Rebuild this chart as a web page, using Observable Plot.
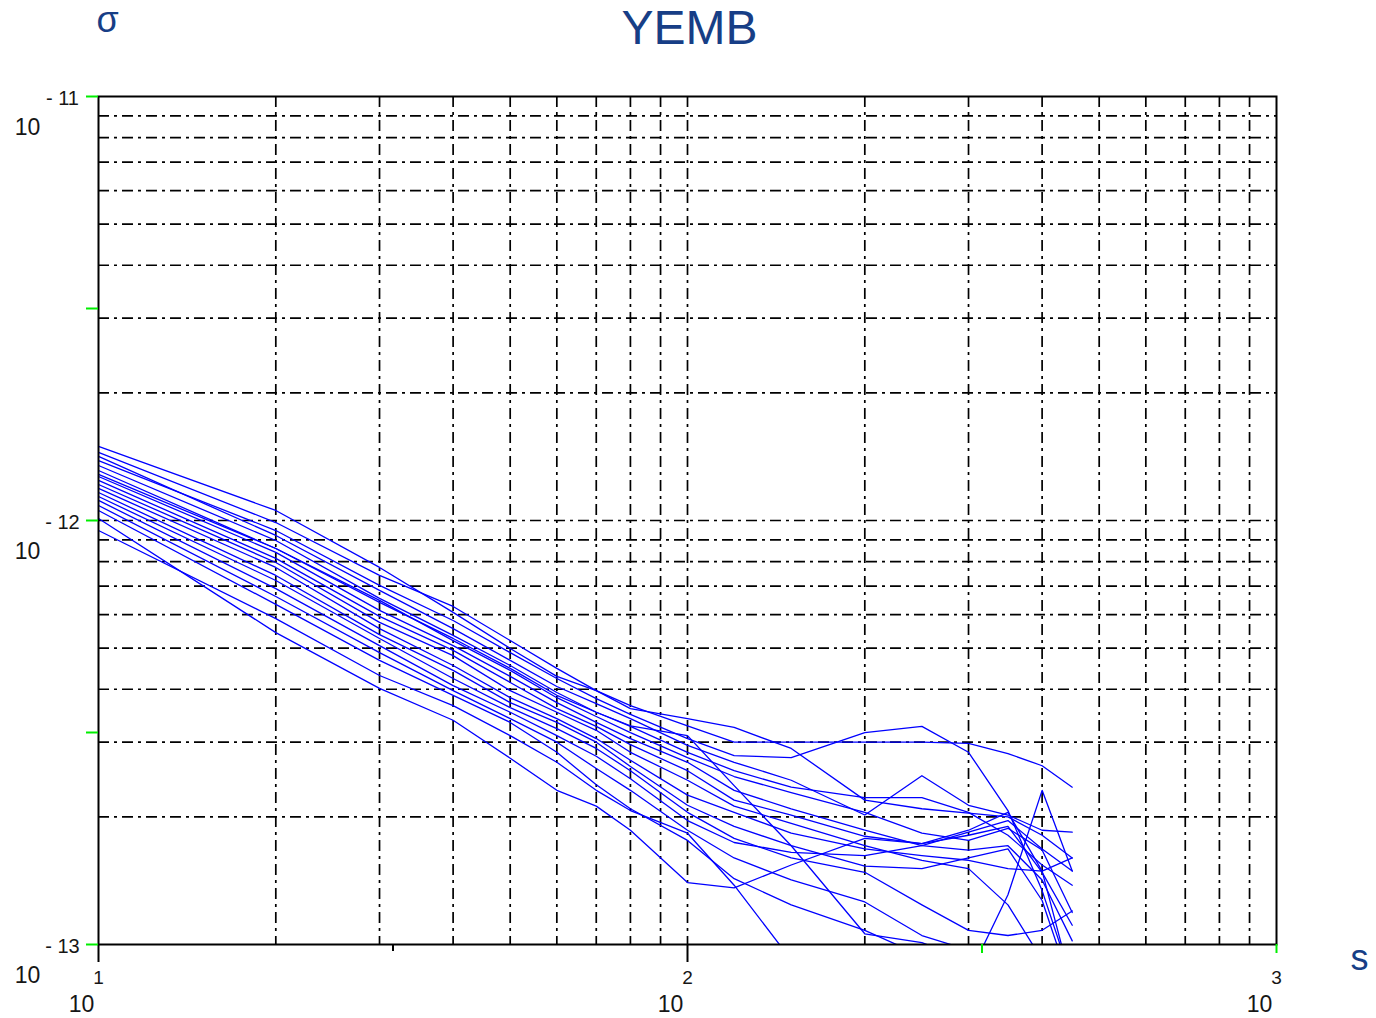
<!DOCTYPE html>
<html>
<head>
<meta charset="utf-8">
<script src="https://cdn.jsdelivr.net/npm/d3@7"></script>
<script src="https://cdn.jsdelivr.net/npm/@observablehq/plot@0.6"></script>
<style>
  html, body { margin: 0; padding: 0; background: #ffffff; }
  #chart svg { display: block; }
</style>
</head>
<body>
<div id="chart"></div>
<script>
// averaging time tau (s)
const tau = [10, 20, 30, 40, 50, 60, 70, 80, 100, 120, 150, 200, 250, 300, 350, 400, 450];

// sigma series (values in units of 1e-13)
const s01 = [14.95, 10.56, 7.75, 6.07, 4.99, 4.29, 3.97, 3.60, 3.41, 3.25, 2.90, 2.19, 2.09, 2.04, 2.00, 1.81, 1.60];
const s02 = [14.47, 9.89, 7.42, 6.27, 5.21, 4.48, 3.97, 3.66, 3.28, 3.00, 3.00, 3.00, 3.00, 2.98, 2.82, 2.64, 2.35];
const s03 = [13.85, 9.47, 7.03, 5.81, 4.88, 4.24, 3.80, 3.49, 3.06, 2.79, 2.76, 3.16, 3.27, 2.84, 2.07, 1.34, 0.82];
const s04 = [14.16, 9.22, 6.84, 5.56, 4.68, 4.06, 3.70, 3.41, 2.95, 2.69, 2.44, 2.02, 2.50, 2.13, 2.02, 1.86, 1.84];
const s05 = [13.48, 8.97, 6.55, 5.36, 4.55, 3.93, 3.53, 3.27, 2.84, 2.57, 2.35, 2.22, 2.22, 2.05, 1.81, 1.54, 1.38];
const s06 = [13.12, 8.59, 6.48, 5.21, 4.43, 3.82, 3.45, 3.16, 2.76, 2.49, 2.28, 2.05, 1.83, 1.76, 1.88, 1.67, 1.19];
const s07 = [12.70, 8.41, 6.14, 5.07, 4.29, 3.72, 3.34, 3.06, 2.69, 2.31, 2.09, 1.86, 1.71, 1.67, 1.71, 1.42, 1.02];
const s08 = [12.43, 8.14, 5.94, 4.94, 4.15, 3.60, 3.27, 2.96, 2.57, 2.19, 2.02, 1.80, 1.73, 1.86, 2.05, 1.49, 0.80];
const s09 = [12.16, 7.96, 5.75, 4.80, 3.97, 3.53, 3.20, 2.84, 2.44, 2.12, 1.93, 1.71, 1.58, 1.51, 1.24, 0.92, 0.74];
const s10 = [11.90, 7.75, 5.56, 4.55, 3.82, 3.41, 3.06, 2.72, 2.25, 2.05, 1.83, 1.68, 1.62, 1.58, 1.51, 1.49, 1.60];
const s11 = [11.64, 7.42, 5.38, 4.43, 3.72, 3.34, 3.00, 2.63, 2.13, 1.90, 1.71, 1.53, 1.51, 1.60, 1.68, 1.27, 0.78];
const s12 = [11.39, 7.22, 5.27, 4.24, 3.62, 3.23, 2.90, 2.57, 2.05, 1.78, 1.60, 1.48, 1.24, 1.08, 1.05, 1.08, 1.20];
const s13 = [11.15, 6.91, 5.07, 4.08, 3.53, 3.11, 2.78, 2.46, 1.96, 1.74, 1.65, 1.62, 1.71, 1.84, 1.96, 1.68, 1.49];
const s14 = [10.85, 6.62, 4.88, 3.97, 3.41, 3.00, 2.60, 2.31, 1.86, 1.60, 1.42, 1.26, 1.05, 0.97, 0.89, 0.87, 0.85];
const s15 = [10.56, 6.34, 4.68, 3.87, 3.34, 2.84, 2.38, 2.09, 1.76, 1.43, 1.24, 1.08, 0.94, 0.84, 1.31, 2.31, 1.49];
const s16 = [10.11, 5.44, 4.02, 3.38, 2.75, 2.31, 2.12, 1.86, 1.40, 1.36, 1.54, 1.78, 1.73, 1.81, 1.90, 1.48, 1.11];
const s17 = [9.47, 5.87, 4.31, 3.66, 3.11, 2.69, 2.31, 2.07, 1.83, 1.38, 0.92, 0.78, 0.74, 0.70, 0.67, 0.64, 0.62];
const s18 = [12.84, 8.59, 6.41, 5.27, 4.48, 3.87, 3.53, 3.28, 3.11, 2.37, 1.71, 1.06, 1.01, 0.92, 0.87, 0.85, 0.82];
const unit = 1e-13;

// grid values and tick labels
const xGrid = [20, 30, 40, 50, 60, 70, 80, 90, 100, 200, 300, 400, 500, 600, 700, 800, 900];
const yGrid = [2e-13, 3e-13, 4e-13, 5e-13, 6e-13, 7e-13, 8e-13, 9e-13, 1e-12,
               2e-12, 3e-12, 4e-12, 5e-12, 6e-12, 7e-12, 8e-12, 9e-12];
const xDecades = [10, 100, 1000];
const xExpLabels = ["1", "2", "3"];
const yDecades = [1e-11, 1e-12, 1e-13];
const yExpLabels = ["- 11", "- 12", "- 13"];
const xTicksBlackLong = [10, 100];
const xTicksBlackShort = [31.623];
const xTicksGreen = [316.23, 1000];
const yTicksGreen = [1e-11, 3.1623e-12, 1e-12, 3.1623e-13, 1e-13];

const title = "YEMB";
const yLabel = "σ";
const xLabel = "s";

const allSeries = [s01, s02, s03, s04, s05, s06, s07, s08, s09, s10, s11, s12, s13, s14, s15, s16, s17, s18];
const rows = [];
allSeries.forEach((s, k) => s.forEach((v, i) => rows.push({series: k, tau: tau[i], sigma: v * unit})));

const navy = "#173e86";
const ink = "#161616";
const font = "Liberation Sans, Arial, sans-serif";
const centered = {textAnchor: "middle", lineAnchor: "middle", fontFamily: font};

const chart = Plot.plot({
  width: 1376,
  height: 1018,
  marginLeft: 98,
  marginRight: 100,
  marginTop: 96,
  marginBottom: 74,
  style: {background: "#ffffff"},
  x: {type: "log", domain: [10, 1000], axis: null},
  y: {type: "log", domain: [1e-13, 1e-11], axis: null},
  marks: [
    Plot.ruleX(xGrid, {stroke: "#000", strokeWidth: 1.7, strokeDasharray: "11,5,3,5"}),
    Plot.ruleY(yGrid, {stroke: "#000", strokeWidth: 1.7, strokeDasharray: "11,5,3,5"}),
    Plot.line(rows, {x: "tau", y: "sigma", z: "series", stroke: "#0000ff", strokeWidth: 1.3, clip: true}),
    Plot.frame({stroke: "#000", strokeWidth: 2}),
    Plot.axisX(xTicksBlackLong, {anchor: "bottom", tickSize: 18, stroke: "#000", strokeWidth: 2, tickFormat: () => "", label: null}),
    Plot.axisX(xTicksBlackShort, {anchor: "bottom", tickSize: 7, stroke: "#000", strokeWidth: 2, tickFormat: () => "", label: null}),
    Plot.axisX(xTicksGreen, {anchor: "bottom", tickSize: 9, stroke: "#00ee00", strokeWidth: 2, tickFormat: () => "", label: null}),
    Plot.axisY(yTicksGreen, {anchor: "left", tickSize: 12, stroke: "#00ee00", strokeWidth: 2, tickFormat: () => "", label: null}),
    // y tick labels
    Plot.text(yDecades, {y: d => d, frameAnchor: "left", dx: -36, dy: 2, text: (d, i) => yExpLabels[i], fontSize: 20, fill: ink, ...centered}),
    Plot.text(yDecades, {y: d => d, frameAnchor: "left", dx: -71, dy: 31, text: () => "10", fontSize: 23, fill: ink, ...centered}),
    // x tick labels
    Plot.text(xDecades, {x: d => d, frameAnchor: "bottom", dy: 33, text: (d, i) => xExpLabels[i], fontSize: 19, fill: ink, ...centered}),
    Plot.text(xDecades, {x: d => d, frameAnchor: "bottom", dx: -17, dy: 60, text: () => "10", fontSize: 23, fill: ink, ...centered}),
    // title and axis names
    Plot.text([title], {frameAnchor: "top", dx: 2, dy: -68, text: d => d, fontSize: 48, fill: navy, ...centered}),
    Plot.text([yLabel], {frameAnchor: "top-left", dx: 9, dy: -76, text: d => d, fontSize: 36, fill: navy, ...centered}),
    Plot.text([xLabel], {frameAnchor: "bottom-right", dx: 83, dy: 14, text: d => d, fontSize: 36, fill: navy, ...centered})
  ]
});
document.getElementById("chart").appendChild(chart);
</script>
</body>
</html>
